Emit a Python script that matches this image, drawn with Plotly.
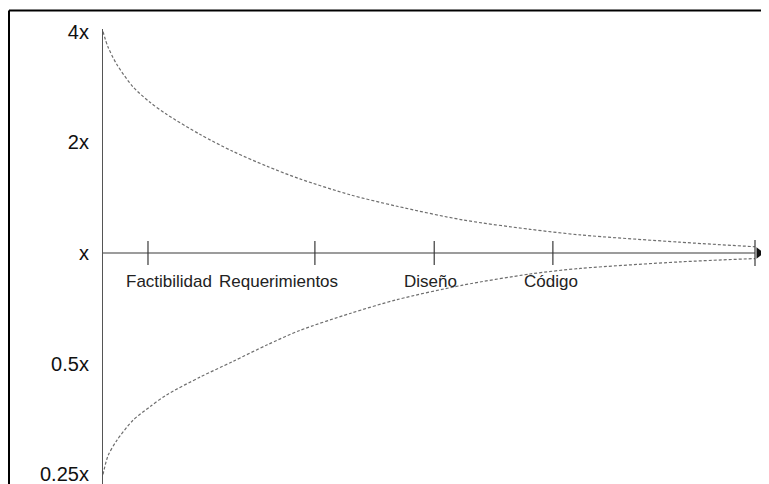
import plotly.graph_objects as go
import numpy as np

# ---- data ----
progress = [0, 0.77, 2.15, 4.6, 7.2, 9.8, 14.9, 19.9, 25.2, 30.2, 37.9, 45.1, 55.2, 65.5, 73.2, 88.5, 100]
upper = [4.0, 3.63, 3.25, 2.83, 2.57, 2.38, 2.10, 1.89, 1.72, 1.59, 1.44, 1.34, 1.23, 1.16, 1.12, 1.07, 1.04]
lower = [0.25, 0.281, 0.310, 0.351, 0.382, 0.412, 0.460, 0.507, 0.563, 0.616, 0.685, 0.747, 0.818, 0.877, 0.908, 0.946, 0.966]

stages = ["Factibilidad", "Requerimientos", "Diseño", "Código"]
stage_x = [6.9, 32.5, 50.8, 69.0]
end_x = 100

y_tickvals = [0.25, 0.5, 1, 2, 4]
y_ticktext = ["0.25x", "0.5x", "x", "2x", "4x"]

# ---- style / layout ----
W, H = 769, 484
ML, MR, MT, MB = 95, 12, 21, 8
pw = W - ML - MR
ph = H - MT - MB
px_per_unit = 652 / 100.0
x_range = [0, pw / px_per_unit]
y_range = [np.log10(2) * -2.086, np.log10(2) * 2.023]
tick_half = 2 ** (12 / 110.7)
end_half = 2 ** (13 / 110.7)

axis_col = "#3a3a3a"
dash_col = "#6e6e6e"
font = "Liberation Sans, Arial, sans-serif"

fig = go.Figure()

# dashed envelope curves
for ys in (upper, lower):
    fig.add_trace(go.Scatter(x=progress, y=ys, mode="lines",
                             line=dict(color=dash_col, width=1.2, dash="3px,2px", shape="spline", smoothing=0.8),
                             hoverinfo="skip", showlegend=False))

# horizontal axis at x (=1)
fig.add_trace(go.Scatter(x=[0, end_x], y=[1, 1], mode="lines",
                         line=dict(color=axis_col, width=1.2), hoverinfo="skip", showlegend=False))

# stage tick marks
for sx in stage_x:
    fig.add_trace(go.Scatter(x=[sx, sx], y=[1 / tick_half, tick_half], mode="lines",
                             line=dict(color=axis_col, width=1.2), hoverinfo="skip", showlegend=False))
fig.add_trace(go.Scatter(x=[end_x, end_x], y=[1 / end_half, end_half], mode="lines",
                         line=dict(color=axis_col, width=1.2), hoverinfo="skip", showlegend=False))

# arrow head
fig.add_trace(go.Scatter(x=[end_x + 4 / px_per_unit], y=[1], mode="markers",
                         marker=dict(symbol="triangle-right", size=10, color="#111"),
                         cliponaxis=False, hoverinfo="skip", showlegend=False))

# stage labels
shifts = [21, -36, -4, -2]
for s, sx, sh in zip(stages, stage_x, shifts):
    fig.add_annotation(x=sx, y=0, yref="y", text=s, showarrow=False, xshift=sh, yshift=-28,
                       font=dict(family=font, size=17, color="#222"))

# frame (left and top borders)
fx = (1 - ML) / pw
fy = (H - MB - 2.5) / ph
fig.add_shape(type="line", xref="paper", yref="paper", x0=fx, x1=fx, y0=fy, y1=-0.1,
              line=dict(color="#000", width=2))
fig.add_shape(type="line", xref="paper", yref="paper", x0=fx, x1=1.1, y0=fy, y1=fy,
              line=dict(color="#000", width=2))

fig.update_layout(
    width=W, height=H,
    margin=dict(l=ML, r=MR, t=MT, b=MB),
    paper_bgcolor="white", plot_bgcolor="white",
    xaxis=dict(range=x_range, showgrid=False, zeroline=False, showticklabels=False, showline=False,
               fixedrange=True),
    yaxis=dict(type="log", range=y_range, showgrid=False, zeroline=False,
               showline=True, linecolor="#555", linewidth=1.2,
               tickvals=y_tickvals, ticktext=y_ticktext, ticks="",
               ticklabelstandoff=9,
               tickfont=dict(family=font, size=20, color="#111"), fixedrange=True),
    showlegend=False,
)

fig.write_html("out.html")
